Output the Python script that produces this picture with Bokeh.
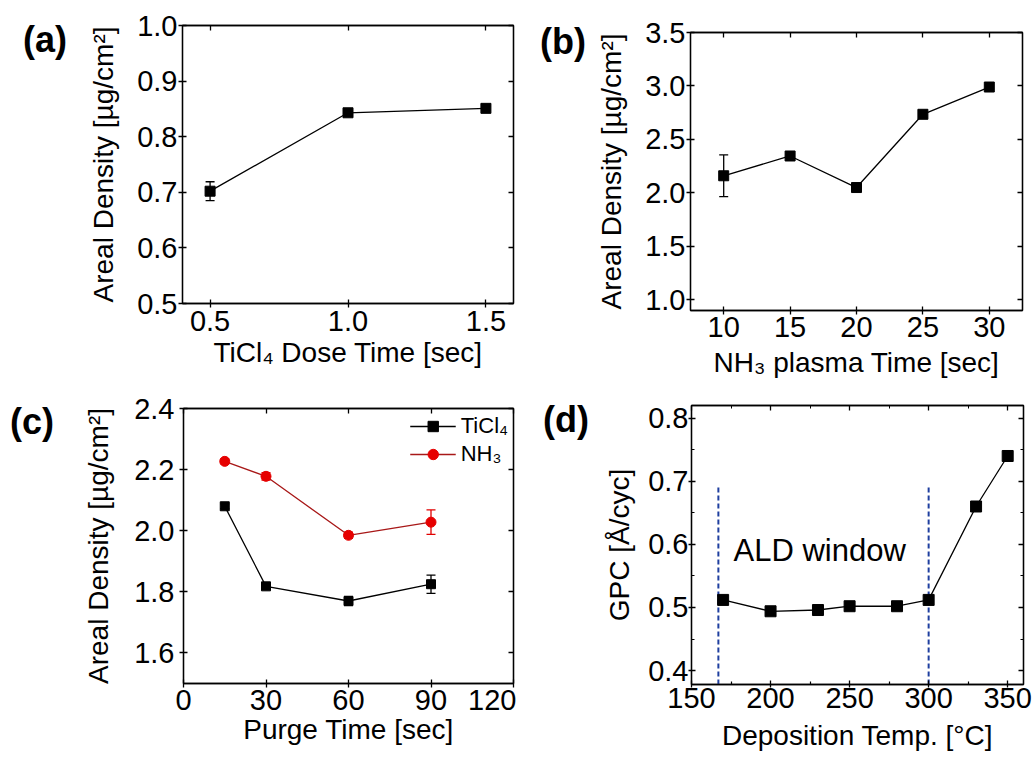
from bokeh.plotting import figure
from bokeh.layouts import row, column
from bokeh.models import (ColumnDataSource, Whisker, TeeHead, FixedTicker,
                          LinearAxis, Label, Range1d, Div)
from bokeh.embed import file_html
from bokeh.resources import INLINE

FONT = "Liberation Sans"

# ---------------- data ----------------
# (a) TiCl4 dose time
dose_time = [0.5, 1.0, 1.5]
dose_density = [0.702, 0.843, 0.851]
dose_err = [0.017, 0.004, 0.004]
dose_xticks = [0.5, 1.0, 1.5]
dose_xlabels = ["0.5", "1.0", "1.5"]
dose_yticks = [0.5, 0.6, 0.7, 0.8, 0.9, 1.0]
dose_ylabels = ["0.5", "0.6", "0.7", "0.8", "0.9", "1.0"]

# (b) NH3 plasma time
plasma_time = [10, 15, 20, 25, 30]
plasma_density = [2.16, 2.345, 2.05, 2.735, 2.99]
plasma_err = [0.195, 0.02, 0.02, 0.03, 0.02]
plasma_xticks = [10, 15, 20, 25, 30]
plasma_xlabels = ["10", "15", "20", "25", "30"]
plasma_yticks = [1.0, 1.5, 2.0, 2.5, 3.0, 3.5]
plasma_ylabels = ["1.0", "1.5", "2.0", "2.5", "3.0", "3.5"]

# (c) purge time
purge_time = [15, 30, 60, 90]
purge_ticl4 = [2.08, 1.818, 1.77, 1.825]
purge_ticl4_err = [0.008, 0.01, 0.015, 0.03]
purge_nh3 = [2.227, 2.178, 1.985, 2.028]
purge_nh3_err = [0.008, 0.012, 0.01, 0.04]
purge_xticks = [0, 30, 60, 90, 120]
purge_xlabels = ["0", "30", "60", "90", "120"]
purge_yticks = [1.6, 1.8, 2.0, 2.2, 2.4]
purge_ylabels = ["1.6", "1.8", "2.0", "2.2", "2.4"]

# (d) deposition temperature
dep_temp = [170, 200, 230, 250, 280, 300, 330, 350]
dep_gpc = [0.512, 0.494, 0.496, 0.502, 0.502, 0.512, 0.660, 0.740]
window_bounds = [167, 300]
window_top = 0.69
window_bottom = 0.36
dep_xticks = [150, 200, 250, 300, 350]
dep_xlabels = ["150", "200", "250", "300", "350"]
dep_yticks = [0.4, 0.5, 0.6, 0.7, 0.8]
dep_ylabels = ["0.4", "0.5", "0.6", "0.7", "0.8"]


def mids(t):
    return [(a + b) / 2 for a, b in zip(t[:-1], t[1:])]


def make_fig(w, h, xr, yr, xt, xl, yt, yl, b, xlabel, ylabel, st, minor=False):
    # st = (tick_out, x label standoff, x axis-label standoff,
    #       y label standoff, y axis-label standoff)
    p = figure(width=w, height=h, x_range=Range1d(*xr), y_range=Range1d(*yr),
               output_backend="svg", toolbar_location=None,
               min_border_left=b[0], min_border_right=b[1],
               min_border_top=b[2], min_border_bottom=b[3])
    p.grid.visible = False
    p.outline_line_color = "black"
    p.outline_line_width = 1.3
    p.background_fill_color = "white"
    p.border_fill_color = "white"
    xm = mids(xt) if minor else []
    ym = mids(yt) if minor else []
    p.xaxis[0].ticker = FixedTicker(ticks=xt, minor_ticks=xm)
    p.yaxis[0].ticker = FixedTicker(ticks=yt, minor_ticks=ym)
    p.xaxis[0].major_label_overrides = dict(zip(xt, xl))
    p.yaxis[0].major_label_overrides = dict(zip(yt, yl))
    p.xaxis.axis_label = xlabel
    p.yaxis.axis_label = ylabel
    for ax in (p.xaxis[0], p.yaxis[0]):
        ax.axis_line_width = 1.3
        ax.major_tick_line_width = 1.3
        ax.minor_tick_line_width = 1.2
        ax.major_tick_in = 4
        ax.major_tick_out = st[0]
        ax.minor_tick_in = 3
        ax.minor_tick_out = 0
        ax.major_label_text_font = FONT
        ax.major_label_text_font_size = "29px"
        ax.major_label_text_color = "black"
        ax.axis_label_text_font = FONT
        ax.axis_label_text_font_size = "28px"
        ax.axis_label_text_font_style = "normal"
        ax.axis_label_text_color = "black"
    p.xaxis[0].major_label_standoff = st[1]
    p.xaxis[0].axis_label_standoff = st[2]
    p.yaxis[0].major_label_standoff = st[3]
    p.yaxis[0].axis_label_standoff = st[4]
    for loc, t, m in (("above", xt, xm), ("right", yt, ym)):
        ax = LinearAxis(ticker=FixedTicker(ticks=t, minor_ticks=m),
                        major_label_overrides={v: "" for v in t},
                        major_label_text_font_size="1px",
                        major_label_standoff=0,
                        major_tick_in=5, major_tick_out=0,
                        minor_tick_in=3, minor_tick_out=0,
                        axis_line_width=1.3, major_tick_line_width=1.3)
        p.add_layout(ax, loc)
    return p


def panel_tag(text, w, h, left, top):
    html = ('<div style="padding-left:%dpx;padding-top:%dpx;'
            'font-family:\'Liberation Sans\',Arial,sans-serif;font-size:36px;'
            'font-weight:bold;line-height:36px;color:black;white-space:nowrap">%s</div>'
            % (left, top, text))
    return Div(text=html, width=w, height=h, margin=0)


def errorbars(p, xs, ys, errs, color):
    src = ColumnDataSource(dict(x=xs, lo=[a - e for a, e in zip(ys, errs)],
                                hi=[a + e for a, e in zip(ys, errs)]))
    p.add_layout(Whisker(source=src, base="x", lower="lo", upper="hi",
                         line_color=color, line_width=1.3,
                         upper_head=TeeHead(size=9, line_color=color, line_width=1.3),
                         lower_head=TeeHead(size=9, line_color=color, line_width=1.3)))


# ---------------- (a) ----------------
pa = make_fig(436, 386, (0.4, 1.6), (0.5, 1.0), dose_xticks, dose_xlabels,
              dose_yticks, dose_ylabels,
              (102, 3, 25, 83), "TiCl\u2084 Dose Time [sec]",
              "Areal Density [\u00b5g/cm\u00b2]", (4, 3, 3, 1, 15))
errorbars(pa, dose_time, dose_density, dose_err, "black")
pa.line(dose_time, dose_density, line_color="black", line_width=1.3)
pa.scatter(dose_time, dose_density, marker="square", size=10, color="black")

# ---------------- (b) ----------------
pb = make_fig(443, 386, (7.5, 32.5), (0.9, 3.5), plasma_xticks, plasma_xlabels,
              plasma_yticks, plasma_ylabels,
              (100, 11, 32, 76), "NH\u2083 plasma Time [sec]",
              "Areal Density [\u00b5g/cm\u00b2]", (4, 2, 7, 1, 15))
errorbars(pb, plasma_time, plasma_density, plasma_err, "black")
pb.line(plasma_time, plasma_density, line_color="black", line_width=1.3)
pb.scatter(plasma_time, plasma_density, marker="square", size=10, color="black")

# ---------------- (c) ----------------
pc = make_fig(436, 373, (0, 120), (1.5, 2.4), purge_xticks, purge_xlabels,
              purge_yticks, purge_ylabels,
              (103, 3, 22, 76), "Purge Time [sec]",
              "Areal Density [\u00b5g/cm\u00b2]", (4, 2, 1, 5, 17))
errorbars(pc, purge_time, purge_ticl4, purge_ticl4_err, "black")
errorbars(pc, purge_time, purge_nh3, purge_nh3_err, "#e00000")
pc.line(purge_time, purge_ticl4, line_color="black", line_width=1.3, legend_label="TiCl\u2084")
pc.scatter(purge_time, purge_ticl4, marker="square", size=9, color="black", legend_label="TiCl\u2084")
pc.line(purge_time, purge_nh3, line_color="#a81818", line_width=1.3, legend_label="NH\u2083")
pc.scatter(purge_time, purge_nh3, marker="circle", size=10, color="#e60000", legend_label="NH\u2083")
pc.legend.location = "top_right"
pc.legend.border_line_alpha = 0
pc.legend.background_fill_alpha = 0
pc.legend.label_text_font = FONT
pc.legend.label_text_font_size = "22px"
pc.legend.label_text_color = "black"
pc.legend.glyph_width = 46
pc.legend.glyph_height = 26
pc.legend.label_height = 26
pc.legend.label_standoff = 5
pc.legend.spacing = 2
pc.legend.padding = 5
pc.legend.margin = 0

# ---------------- (d) ----------------
pd = make_fig(443, 373, (150, 360), (0.378, 0.82), dep_xticks, dep_xlabels,
              dep_yticks, dep_ylabels,
              (101, 10, 19, 75), "Deposition Temp. [\u00b0C]",
              "GPC [\u00c5/cyc]", (3, 0, 9, 0, 10), minor=True)
pd.segment(x0=window_bounds, y0=[window_top] * 2, x1=window_bounds,
           y1=[window_bottom] * 2, line_color="#1f3f9f", line_width=2,
           line_dash="5 3")
pd.line(dep_temp, dep_gpc, line_color="black", line_width=1.3)
pd.scatter(dep_temp, dep_gpc, marker="square", size=11, color="black")
pd.add_layout(Label(x=176.6, y=0.59, text="ALD window", text_font=FONT,
                    text_font_size="31px", text_align="left",
                    text_baseline="middle", text_color="black"))

left_col = column(row(panel_tag("(a)", 80, 386, 23, 22), pa),
                  row(panel_tag("(c)", 80, 373, 10, 18), pc))
right_col = column(row(panel_tag("(b)", 74, 386, 24, 24), pb),
                   row(panel_tag("(d)", 74, 373, 27, 16), pd))
layout = row(left_col, right_col)
open("out.html", "w").write(file_html(layout, INLINE))
